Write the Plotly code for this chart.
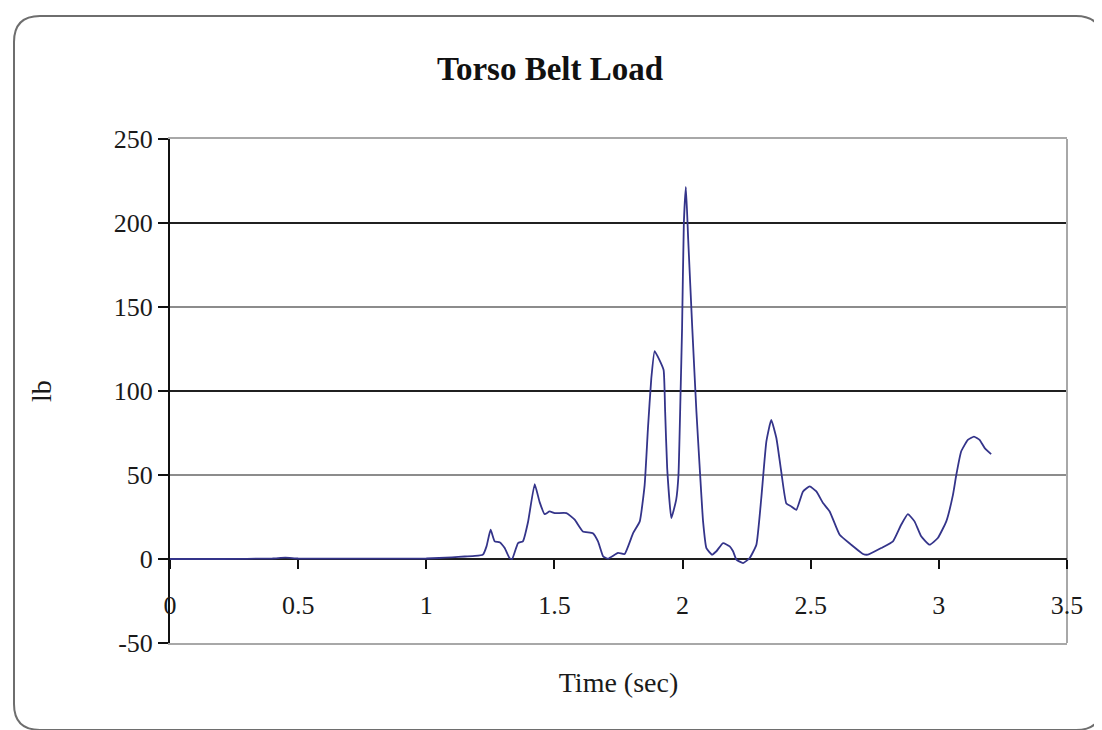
import plotly.graph_objects as go

# ---- data ----
time_s = [0, 0.2, 0.4, 0.45, 0.5, 0.7, 0.9, 1.0, 1.05, 1.1, 1.15, 1.19, 1.221, 1.235, 1.251, 1.267,
          1.286, 1.306, 1.325, 1.335, 1.358, 1.377, 1.397, 1.423, 1.442, 1.462, 1.481, 1.501, 1.547,
          1.579, 1.611, 1.65, 1.67, 1.69, 1.709, 1.748, 1.774, 1.807, 1.833, 1.852, 1.865, 1.878,
          1.891, 1.91, 1.926, 1.932, 1.94, 1.956, 1.975, 1.984, 1.992, 1.998, 2.005, 2.013, 2.022,
          2.038, 2.054, 2.067, 2.08, 2.093, 2.115, 2.132, 2.158, 2.184, 2.197, 2.21, 2.236, 2.262,
          2.288, 2.307, 2.327, 2.346, 2.366, 2.385, 2.405, 2.424, 2.444, 2.47, 2.496, 2.522, 2.548,
          2.574, 2.613, 2.658, 2.704, 2.723, 2.775, 2.821, 2.853, 2.879, 2.905, 2.931, 2.964, 2.996,
          3.029, 3.055, 3.068, 3.087, 3.113, 3.137, 3.159, 3.179, 3.204]
load_lb = [0, 0, 0.3, 0.8, 0.3, 0.2, 0.2, 0.3, 0.6, 1, 1.5, 1.8, 2.6, 7.5, 17.4, 10.5,
           10, 6.5, 0.5, 0, 9.5, 10.5, 22, 44.6, 34, 26.7, 28.3, 27.3, 27.3,
           23.4, 16.4, 15.4, 10.5, 1.6, 0.2, 3.6, 3, 15.4, 22.4, 44, 78, 107.5,
           123.8, 118.4, 112.5, 87.8, 54, 24.4, 35.2, 50, 97.6, 137, 200, 221.5, 190,
           137, 87.8, 54, 22.4, 6.5, 2.6, 4.6, 9.5, 7.5, 4.6, -0.4, -2.4, 0.6,
           8.5, 36, 70, 82.8, 72, 52, 33, 31.3, 29.3, 40.2, 43.2, 40.2, 33.3,
           28.3, 14.4, 8.5, 3, 2.6, 6.5, 10.5, 20.4, 26.7, 22.4, 13.5, 8.5, 12.5,
           22.4, 38.2, 50, 64, 70.9, 72.9, 70.9, 66, 62.4]

x_ticks = [0, 0.5, 1, 1.5, 2, 2.5, 3, 3.5]
x_tick_text = ["0", "0.5", "1", "1.5", "2", "2.5", "3", "3.5"]
y_ticks = [-50, 0, 50, 100, 150, 200, 250]
y_tick_text = ["-50", "0", "50", "100", "150", "200", "250"]
dark_grid = [100, 200]
light_grid = [50, 150]

title_text = "Torso Belt Load"
x_title = "Time (sec)"
y_title = "lb"

# ---- layout geometry ----
W, H = 1102, 730
ML, MR, MT, MB = 162, 43, 131, 95
PW, PH = W - ML - MR, H - MT - MB
FONT = "Liberation Serif, Times New Roman, serif"
Y_MIN, Y_MAX = -50, 250


def px_to_paper(px, py):
    return (px - ML) / PW, (H - MB - py) / PH


def rounded_rect_path(x0, y0, x1, y1, r):
    pts = []
    def P(cmd, *coords):
        out = []
        for i in range(0, len(coords), 2):
            a, b = px_to_paper(coords[i], coords[i + 1])
            out.append(f"{a:.5f},{b:.5f}")
        pts.append(cmd + " " + " ".join(out))
    P("M", x0 + r, y0)
    P("L", x1 - r, y0)
    P("Q", x1, y0, x1, y0 + r)
    P("L", x1, y1 - r)
    P("Q", x1, y1, x1 - r, y1)
    P("L", x0 + r, y1)
    P("Q", x0, y1, x0, y1 - r)
    P("L", x0, y0 + r)
    P("Q", x0, y0, x0 + r, y0)
    return " ".join(pts) + " Z"


fig = go.Figure()
fig.add_trace(go.Scatter(
    x=time_s, y=load_lb, mode="lines",
    line=dict(color="#34348a", width=1.8, shape="spline", smoothing=0.4),
    showlegend=False, hoverinfo="x+y",
))
# empty trace to create the overlaid axis that carries the ticks at y = 0
fig.add_trace(go.Scatter(x=[], y=[], xaxis="x2", yaxis="y", showlegend=False, hoverinfo="skip"))

shapes = []
for v in light_grid:
    shapes.append(dict(type="line", xref="x domain", yref="y", x0=0, x1=1, y0=v, y1=v,
                       line=dict(color="#8c8c8c", width=2), layer="below"))
for v in dark_grid:
    shapes.append(dict(type="line", xref="x domain", yref="y", x0=0, x1=1, y0=v, y1=v,
                       line=dict(color="#202020", width=2), layer="below"))
shapes.append(dict(type="line", xref="x domain", yref="y domain", x0=1, x1=1, y0=0, y1=1,
                   line=dict(color="#a8a8a8", width=2), layer="below"))
shapes.append(dict(type="path", xref="paper", yref="paper",
                   path=rounded_rect_path(6, 8, 1094, 722, 26),
                   line=dict(color="#6e6e6e", width=2)))

fig.update_layout(
    width=W, height=H,
    margin=dict(l=ML, r=MR, t=MT, b=MB, pad=0),
    paper_bgcolor="white", plot_bgcolor="white",
    font=dict(family=FONT, color="#1a1a1a", size=26),
    title=dict(text=f"<b>{title_text}</b>", x=542 / W, xanchor="center",
               y=1 - 60 / H, yanchor="middle",
               font=dict(family=FONT, size=33, color="#111111")),
    shapes=shapes,
    xaxis=dict(
        range=[0, 3.5], showgrid=False, zeroline=False,
        showline=True, linecolor="#a8a8a8", linewidth=2, mirror=True,
        showticklabels=False, ticks="",
        title=dict(text=x_title, standoff=28, font=dict(family=FONT, size=28, color="#1a1a1a")),
    ),
    xaxis2=dict(
        range=[0, 3.5], overlaying="x", anchor="free",
        position=(0 - Y_MIN) / (Y_MAX - Y_MIN), side="bottom",
        showgrid=False, zeroline=False, showline=False,
        tickmode="array", tickvals=x_ticks, ticktext=x_tick_text,
        ticks="outside", ticklen=9, tickwidth=2, tickcolor="#111111",
        ticklabelstandoff=14,
        tickfont=dict(family=FONT, size=26, color="#1a1a1a"),
    ),
    yaxis=dict(
        range=[Y_MIN, Y_MAX],
        tickmode="array", tickvals=y_ticks, ticktext=y_tick_text,
        ticks="outside", ticklen=10, tickwidth=2, tickcolor="#111111",
        ticklabelstandoff=0,
        showgrid=False,
        zeroline=True, zerolinecolor="#1e1e1e", zerolinewidth=2,
        showline=True, linecolor="#111111", linewidth=2,
        tickfont=dict(family=FONT, size=26, color="#1a1a1a"),
        title=dict(text=y_title, standoff=54, font=dict(family=FONT, size=28, color="#1a1a1a")),
    ),
)

fig.write_html("out.html")
